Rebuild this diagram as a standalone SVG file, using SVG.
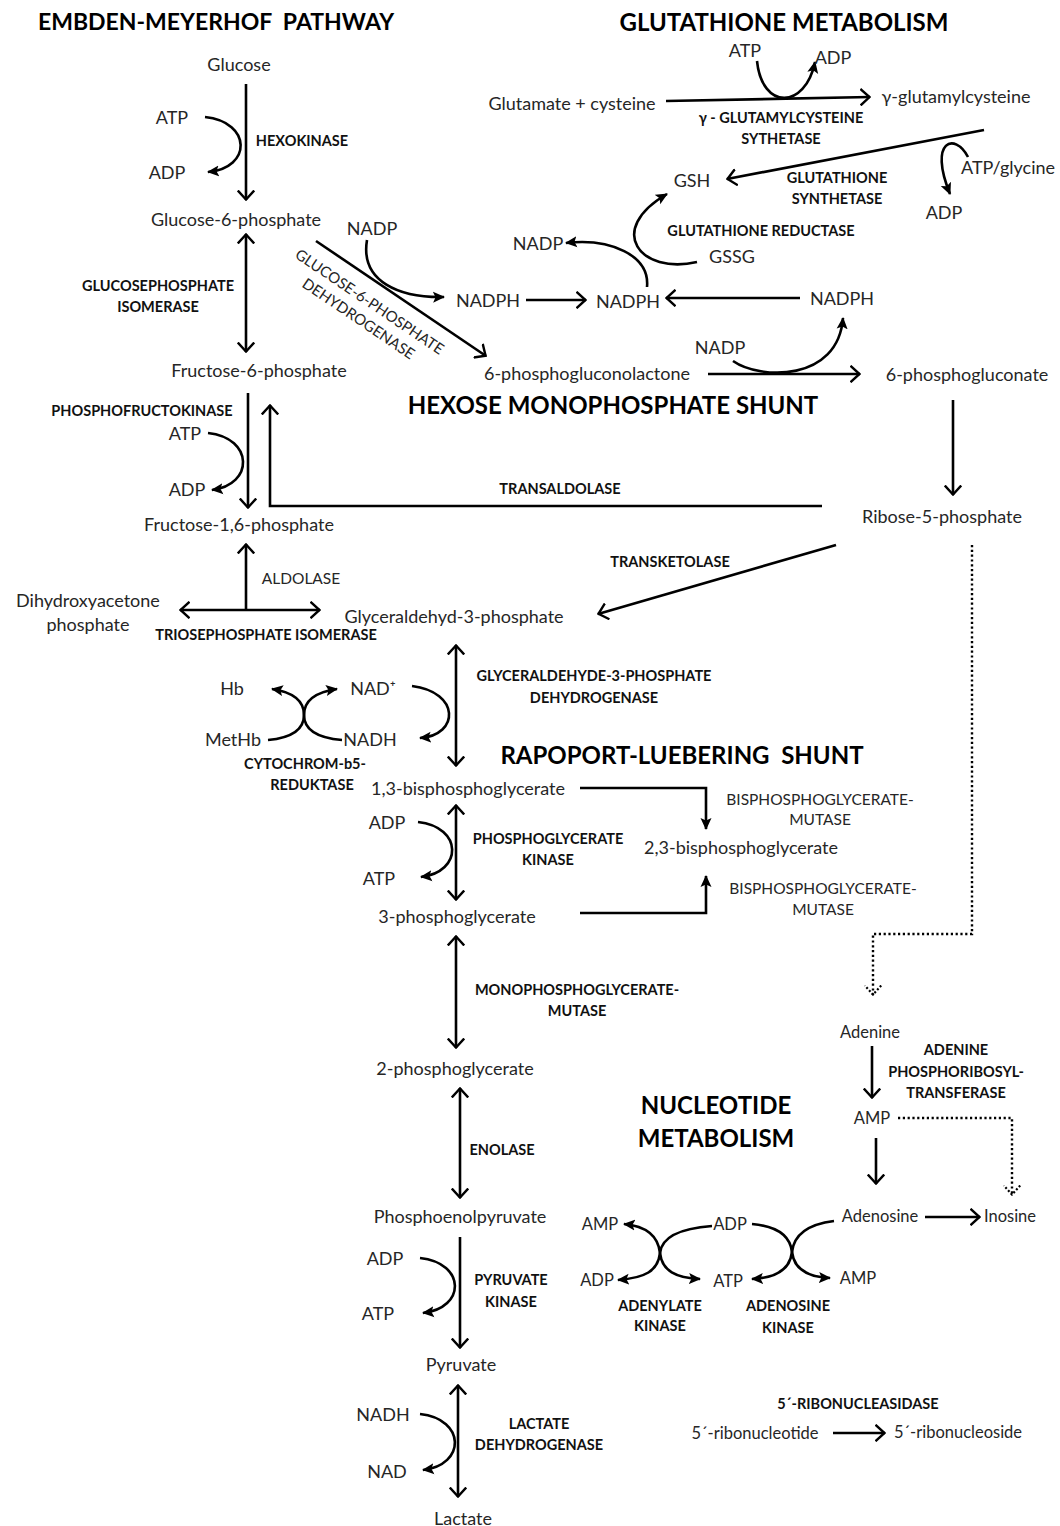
<svg xmlns="http://www.w3.org/2000/svg" width="1060" height="1526" viewBox="0 0 1060 1526">
<style>
text{font-family:Lato,"Liberation Sans",sans-serif;text-anchor:middle;dominant-baseline:central}
.t{font-size:18px;fill:#262626}
.n{font-size:16.5px;fill:#262626}
.s{font-size:15.5px;fill:#262626}
.r{font-size:15px;fill:#262626}
.b{font-size:14.5px;font-weight:700;fill:#111}
.h{font-size:24px;font-weight:700;fill:#000}
.h1{font-size:23px}
.ln{stroke:#000;stroke-width:2.6;fill:none}
.dot{stroke-dasharray:2.2 2.6;stroke-width:2.4}
</style>
<defs>
<marker id="v" viewBox="0 0 11 18" refX="10" refY="9" markerWidth="11" markerHeight="18" markerUnits="userSpaceOnUse" orient="auto-start-reverse"><path d="M0.5,0.8 L9.5,9 L0.5,17.2" fill="none" stroke="#000" stroke-width="2.4"/></marker>
<marker id="vd" viewBox="0 0 11 18" refX="10" refY="9" markerWidth="11" markerHeight="18" markerUnits="userSpaceOnUse" orient="auto"><path d="M0.5,0.8 L9.5,9 L0.5,17.2" fill="none" stroke="#000" stroke-width="2.2" stroke-dasharray="2 2"/></marker>
<marker id="f" viewBox="0 0 12 12" refX="11" refY="6" markerWidth="12" markerHeight="12" markerUnits="userSpaceOnUse" orient="auto"><path d="M0,0.5 L12,6 L0,11.5 L2.5,6z" fill="#000"/></marker>
</defs>
<rect width="1060" height="1526" fill="#fff"/>

<g id="connectors">
<path class="ln" d="M246,84 V200" marker-end="url(#v)"/>
<path class="ln" d="M246,234 V352" marker-start="url(#v)" marker-end="url(#v)"/>
<path class="ln" d="M248,393 V508" marker-end="url(#v)"/>
<path class="ln" d="M822,506 H270 V405" marker-end="url(#v)"/>
<path class="ln" d="M246,610 V544" marker-end="url(#v)"/>
<path class="ln" d="M180,610 H320" marker-start="url(#v)" marker-end="url(#v)"/>
<path class="ln" d="M456,645 V766" marker-start="url(#v)" marker-end="url(#v)"/>
<path class="ln" d="M456,805 V900" marker-start="url(#v)" marker-end="url(#v)"/>
<path class="ln" d="M456,936 V1048" marker-start="url(#v)" marker-end="url(#v)"/>
<path class="ln" d="M460,1088 V1198" marker-start="url(#v)" marker-end="url(#v)"/>
<path class="ln" d="M460,1237 V1348" marker-end="url(#v)"/>
<path class="ln" d="M458,1385 V1497" marker-start="url(#v)" marker-end="url(#v)"/>
<path class="ln" d="M205,117 C252,122 252,168 208,172" marker-end="url(#f)"/>
<path class="ln" d="M208,433 C254,438 254,485 212,490" marker-end="url(#f)"/>
<path class="ln" d="M418,822 C463,827 463,872 421,877" marker-end="url(#f)"/>
<path class="ln" d="M420,1258 C466,1263 466,1308 423,1313" marker-end="url(#f)"/>
<path class="ln" d="M420,1414 C466,1419 466,1465 423,1470" marker-end="url(#f)"/>
<path class="ln" d="M412,686 C460,692 460,735 420,738" marker-end="url(#f)"/>
<path class="ln" d="M268,740 C290,738 304,730 304,715"/>
<path class="ln" d="M304,715 C304,700 292,692 272,689" marker-end="url(#f)"/>
<path class="ln" d="M342,740 C318,738 304,730 304,715"/>
<path class="ln" d="M304,715 C304,700 316,692 337,689" marker-end="url(#f)"/>
<path class="ln" d="M316,241 L486,356" marker-end="url(#v)"/>
<path class="ln" d="M367,240 C360,282 400,298 444,297" marker-end="url(#f)"/>
<path class="ln" d="M526,300 H586" marker-end="url(#v)"/>
<path class="ln" d="M800,298 H666" marker-end="url(#v)"/>
<path class="ln" d="M697,262 C640,275 605,230 667,194" marker-end="url(#f)"/>
<path class="ln" d="M647,287 C650,255 610,238 566,243" marker-end="url(#f)"/>
<path class="ln" d="M666,101 L870,97" marker-end="url(#v)"/>
<path class="ln" d="M757,61 C762,110 805,110 815,62" marker-end="url(#f)"/>
<path class="ln" d="M984,130 L727,179" marker-end="url(#v)"/>
<path class="ln" d="M968,157 C955,132 928,140 950,194" marker-end="url(#f)"/>
<path class="ln" d="M708,374 H860" marker-end="url(#v)"/>
<path class="ln" d="M733,361 C760,380 838,382 843,318" marker-end="url(#f)"/>
<path class="ln" d="M953,400 V495" marker-end="url(#v)"/>
<path class="ln" d="M836,545 L598,614" marker-end="url(#v)"/>
<path class="ln dot" d="M972,545 V934 H873 V995" marker-end="url(#vd)"/>
<path class="ln" d="M580,788 H706 V829" marker-end="url(#f)"/>
<path class="ln" d="M580,913 H706 V876" marker-end="url(#f)"/>
<path class="ln" d="M872,1046 V1098" marker-end="url(#v)"/>
<path class="ln" d="M876,1138 V1184" marker-end="url(#v)"/>
<path class="ln dot" d="M898,1118 H1012 V1195" marker-end="url(#vd)"/>
<path class="ln" d="M925,1217 H980" marker-end="url(#v)"/>
<path class="ln" d="M833,1433 H885" marker-end="url(#v)"/>
<path class="ln" d="M712,1226 C685,1228 662,1235 660,1253"/>
<path class="ln" d="M660,1253 C658,1235 645,1226 624,1224" marker-end="url(#f)"/>
<path class="ln" d="M660,1253 C662,1271 676,1278 700,1279" marker-end="url(#f)"/>
<path class="ln" d="M660,1253 C658,1271 645,1278 618,1280" marker-end="url(#f)"/>
<path class="ln" d="M752,1224 C775,1226 790,1234 792,1252"/>
<path class="ln" d="M834,1221 C810,1224 794,1234 792,1252"/>
<path class="ln" d="M792,1252 C790,1270 775,1278 752,1279" marker-end="url(#f)"/>
<path class="ln" d="M792,1252 C794,1270 808,1277 830,1278" marker-end="url(#f)"/>
</g>

<g id="titles">
<text class="h h1" x="216" y="21" xml:space="preserve">EMBDEN-MEYERHOF  PATHWAY</text>
<text class="h" x="784" y="21">GLUTATHIONE METABOLISM</text>
<text class="h" x="613" y="404">HEXOSE MONOPHOSPHATE SHUNT</text>
<text class="h" x="682" y="754" xml:space="preserve">RAPOPORT-LUEBERING  SHUNT</text>
<text class="h" x="716" y="1104">NUCLEOTIDE</text>
<text class="h" x="716" y="1137">METABOLISM</text>
</g>

<g id="glucose"><text class="t" x="239" y="64">Glucose</text></g>
<g id="atp-hk"><text class="t" x="172" y="117">ATP</text></g>
<g id="adp-hk"><text class="t" x="167" y="172">ADP</text></g>
<g id="hexokinase"><text class="b" x="302" y="140">HEXOKINASE</text></g>
<g id="g6p"><text class="t" x="236" y="219">Glucose-6-phosphate</text></g>
<g id="nadp-g6pd"><text class="t" x="372" y="228">NADP</text></g>
<g id="g6pd"><text class="r" transform="translate(370,301) rotate(34)">GLUCOSE-6-PHOSPHATE</text><text class="r" transform="translate(359,318) rotate(34)">DEHYDROGENASE</text></g>
<g id="gpi"><text class="b" x="158" y="285">GLUCOSEPHOSPHATE</text><text class="b" x="158" y="306">ISOMERASE</text></g>
<g id="f6p"><text class="t" x="259" y="370">Fructose-6-phosphate</text></g>
<g id="pfk"><text class="b" x="142" y="410">PHOSPHOFRUCTOKINASE</text></g>
<g id="atp-pfk"><text class="t" x="185" y="433">ATP</text></g>
<g id="adp-pfk"><text class="t" x="187" y="489">ADP</text></g>
<g id="transaldolase"><text class="b" x="560" y="488">TRANSALDOLASE</text></g>
<g id="f16p"><text class="t" x="239" y="524">Fructose-1,6-phosphate</text></g>
<g id="aldolase"><text class="s" x="301" y="578">ALDOLASE</text></g>
<g id="dhap"><text class="t" x="88" y="600">Dihydroxyacetone</text><text class="t" x="88" y="624">phosphate</text></g>
<g id="tpi"><text class="b" x="266" y="634">TRIOSEPHOSPHATE ISOMERASE</text></g>
<g id="gap"><text class="t" x="454" y="616">Glyceraldehyd-3-phosphate</text></g>
<g id="transketolase"><text class="b" x="670" y="561">TRANSKETOLASE</text></g>
<g id="gapdh"><text class="b" x="594" y="675">GLYCERALDEHYDE-3-PHOSPHATE</text><text class="b" x="594" y="697">DEHYDROGENASE</text></g>
<g id="hb"><text class="t" x="232" y="688">Hb</text></g>
<g id="nadplus"><text class="t" x="373" y="688">NAD⁺</text></g>
<g id="methb"><text class="t" x="233" y="739">MetHb</text></g>
<g id="nadh-cyt"><text class="t" x="370" y="739">NADH</text></g>
<g id="cyb5r"><text class="b" x="305" y="763">CYTOCHROM-b5-</text><text class="b" x="312" y="784">REDUKTASE</text></g>
<g id="bpg13"><text class="t" x="468" y="788">1,3-bisphosphoglycerate</text></g>
<g id="bpgm1"><text class="s" x="820" y="799">BISPHOSPHOGLYCERATE-</text><text class="s" x="820" y="819">MUTASE</text></g>
<g id="bpg23"><text class="t" x="741" y="847">2,3-bisphosphoglycerate</text></g>
<g id="bpgm2"><text class="s" x="823" y="888">BISPHOSPHOGLYCERATE-</text><text class="s" x="823" y="909">MUTASE</text></g>
<g id="adp-pgk"><text class="t" x="387" y="822">ADP</text></g>
<g id="atp-pgk"><text class="t" x="379" y="878">ATP</text></g>
<g id="pgk"><text class="b" x="548" y="838">PHOSPHOGLYCERATE</text><text class="b" x="548" y="859">KINASE</text></g>
<g id="pg3"><text class="t" x="457" y="916">3-phosphoglycerate</text></g>
<g id="pgm"><text class="b" x="577" y="989">MONOPHOSPHOGLYCERATE-</text><text class="b" x="577" y="1010">MUTASE</text></g>
<g id="pg2"><text class="t" x="455" y="1068">2-phosphoglycerate</text></g>
<g id="enolase"><text class="b" x="502" y="1149">ENOLASE</text></g>
<g id="pep"><text class="t" x="460" y="1216">Phosphoenolpyruvate</text></g>
<g id="adp-pk"><text class="t" x="385" y="1258">ADP</text></g>
<g id="atp-pk"><text class="t" x="378" y="1313">ATP</text></g>
<g id="pk"><text class="b" x="511" y="1279">PYRUVATE</text><text class="b" x="511" y="1301">KINASE</text></g>
<g id="pyruvate"><text class="t" x="461" y="1364">Pyruvate</text></g>
<g id="nadh-ldh"><text class="t" x="383" y="1414">NADH</text></g>
<g id="nad-ldh"><text class="t" x="387" y="1471">NAD</text></g>
<g id="ldh"><text class="b" x="539" y="1423">LACTATE</text><text class="b" x="539" y="1444">DEHYDROGENASE</text></g>
<g id="lactate"><text class="t" x="463" y="1518">Lactate</text></g>

<g id="atp-gcs"><text class="t" x="745" y="50">ATP</text></g>
<g id="adp-gcs"><text class="t" x="833" y="57">ADP</text></g>
<g id="glu-cys"><text class="t" x="572" y="103">Glutamate + cysteine</text></g>
<g id="gglucys"><text class="t" x="956" y="96">γ-glutamylcysteine</text></g>
<g id="gcs"><text class="b" x="781" y="117">γ - GLUTAMYLCYSTEINE</text><text class="b" x="781" y="138">SYTHETASE</text></g>
<g id="gsh"><text class="t" x="692" y="180">GSH</text></g>
<g id="atp-gly"><text class="t" x="1008" y="167">ATP/glycine</text></g>
<g id="gs"><text class="b" x="837" y="177">GLUTATHIONE</text><text class="b" x="837" y="198">SYNTHETASE</text></g>
<g id="adp-gs"><text class="t" x="944" y="212">ADP</text></g>
<g id="gr"><text class="b" x="761" y="230">GLUTATHIONE REDUCTASE</text></g>
<g id="nadp-gr"><text class="t" x="538" y="243">NADP</text></g>
<g id="gssg"><text class="t" x="732" y="256">GSSG</text></g>
<g id="nadph1"><text class="t" x="488" y="300">NADPH</text></g>
<g id="nadph2"><text class="t" x="628" y="301">NADPH</text></g>
<g id="nadph3"><text class="t" x="842" y="298">NADPH</text></g>
<g id="nadp-6pgd"><text class="t" x="720" y="347">NADP</text></g>
<g id="pgl6"><text class="t" x="587" y="373">6-phosphogluconolactone</text></g>
<g id="pg6"><text class="t" x="967" y="374">6-phosphogluconate</text></g>
<g id="r5p"><text class="t" x="942" y="516">Ribose-5-phosphate</text></g>

<g id="adenine"><text class="n" x="870" y="1032">Adenine</text></g>
<g id="aprt"><text class="b" x="956" y="1049">ADENINE</text><text class="b" x="956" y="1071">PHOSPHORIBOSYL-</text><text class="b" x="956" y="1092">TRANSFERASE</text></g>
<g id="amp1"><text class="n" x="872" y="1118">AMP</text></g>
<g id="adenosine"><text class="n" x="880" y="1216">Adenosine</text></g>
<g id="inosine"><text class="n" x="1010" y="1216">Inosine</text></g>
<g id="amp2"><text class="n" x="600" y="1224">AMP</text></g>
<g id="adp2"><text class="n" x="730" y="1224">ADP</text></g>
<g id="adp3"><text class="n" x="597" y="1280">ADP</text></g>
<g id="atp3"><text class="n" x="728" y="1281">ATP</text></g>
<g id="amp3"><text class="n" x="858" y="1278">AMP</text></g>
<g id="ak"><text class="b" x="660" y="1305">ADENYLATE</text><text class="b" x="660" y="1325">KINASE</text></g>
<g id="adk"><text class="b" x="788" y="1305">ADENOSINE</text><text class="b" x="788" y="1327">KINASE</text></g>
<g id="rnase"><text class="b" x="858" y="1403">5´-RIBONUCLEASIDASE</text></g>
<g id="rnt"><text class="n" x="755" y="1433">5´-ribonucleotide</text></g>
<g id="rns"><text class="n" x="958" y="1432">5´-ribonucleoside</text></g>
</svg>
